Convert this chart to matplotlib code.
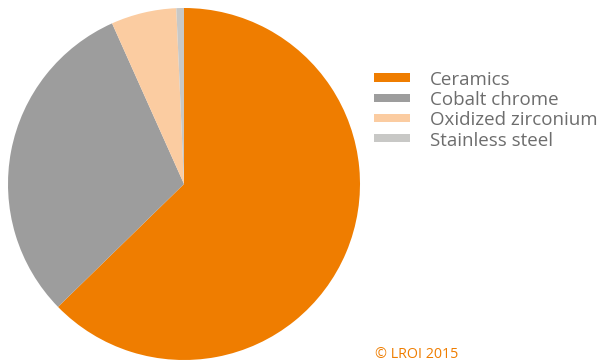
import matplotlib
matplotlib.use("Agg")
import matplotlib.pyplot as plt
from matplotlib.patches import Rectangle

labels = ["Ceramics", "Cobalt chrome", "Oxidized zirconium", "Stainless steel"]
shares = [62.7, 30.6, 6.0, 0.7]
colors = ["#ef7d00", "#9d9d9d", "#fbcca1", "#c8c8c6"]

W, H = 600, 361
fig = plt.figure(figsize=(W / 100, H / 100), dpi=100)
fig.patch.set_facecolor("white")

# pie centred at (184, 184) px with radius 176 px
cx, cy, r = 184, 184, 176
ax = fig.add_axes([(cx - r) / W, (H - cy - r) / H, 2 * r / W, 2 * r / H])
ax.pie(shares, colors=colors, startangle=90, counterclock=False,
       radius=1.0, wedgeprops=dict(linewidth=0))
ax.set_xlim(-1, 1)
ax.set_ylim(-1, 1)
ax.set_aspect("equal")
ax.axis("off")

# legend: colour swatches with labels, one row every 20 px
row0, step = 77.5, 20.2
for i, (lab, col) in enumerate(zip(labels, colors)):
    yc = row0 + i * step
    fig.patches.append(Rectangle((374 / W, 1 - (yc + 4.2) / H), 36 / W, 8.4 / H,
                                 transform=fig.transFigure, facecolor=col,
                                 edgecolor="none"))
    fig.text(430 / W, 1 - (yc + 0.5) / H, lab, color="#6d6d6d", fontsize=13.5,
             family="Open Sans", va="center_baseline", ha="left")

fig.text(375 / W, 1 - 353 / H, "© LROI 2015", color="#ef7d00",
         fontsize=10.3, family="Open Sans", va="center_baseline", ha="left")

fig.savefig("out.png", dpi=100, facecolor="white")
